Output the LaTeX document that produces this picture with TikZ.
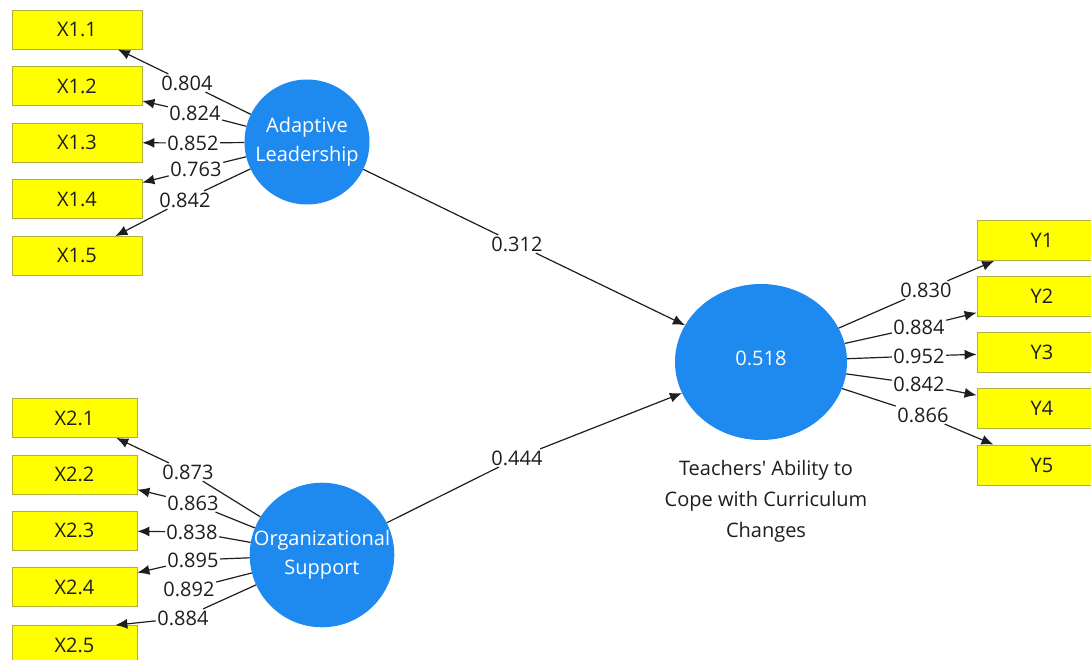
\documentclass[tikz,border=0pt]{standalone}
\usepackage{fontspec}
\setmainfont{Open Sans}
\usetikzlibrary{arrows.meta,shapes.geometric}
\definecolor{lvblue}{RGB}{30,138,240}
\definecolor{indyellow}{RGB}{255,255,0}
\definecolor{indborder}{RGB}{175,175,60}
\definecolor{lncol}{RGB}{30,30,30}
\definecolor{txt}{RGB}{30,30,30}
\begin{document}
\begin{tikzpicture}[x=1pt,y=-1pt,
  every node/.style={font=\fontsize{20}{24}\selectfont},
  ind/.style={draw=indborder, fill=indyellow, line width=0.8pt, minimum height=39pt, inner sep=0pt, text=txt},
  lv/.style={circle, fill=lvblue, text=white, inner sep=0pt, align=center, font=\fontsize{20}{29}\selectfont},
  lbl/.style={fill=white, inner sep=1.5pt, text=txt},
  ln/.style={draw=lncol, line width=1.2pt},
  arr/.style={ln, -{Latex[length=12pt,width=10pt]}}]
\fill[white] (0,0) rectangle (1091,660);
\useasboundingbox (0,0) rectangle (1091,660);

% indicator boxes
\node[ind, minimum width=130pt] (x11) at (77,29.5) {X1.1};
\node[ind, minimum width=130pt] (x12) at (77,86) {X1.2};
\node[ind, minimum width=130pt] (x13) at (77,142.5) {X1.3};
\node[ind, minimum width=130pt] (x14) at (77,199) {X1.4};
\node[ind, minimum width=130pt] (x15) at (77,256) {X1.5};

\node[ind, minimum width=125pt] (x21) at (74.5,418) {X2.1};
\node[ind, minimum width=125pt] (x22) at (74.5,474.5) {X2.2};
\node[ind, minimum width=125pt] (x23) at (74.5,530.5) {X2.3};
\node[ind, minimum width=125pt] (x24) at (74.5,587) {X2.4};
\node[ind, minimum width=125pt] (x25) at (74.5,645) {X2.5};

\node[ind, minimum width=130pt, minimum height=40pt] (y1) at (1042,240.5) {Y1};
\node[ind, minimum width=130pt, minimum height=40pt] (y2) at (1042,296.5) {Y2};
\node[ind, minimum width=130pt, minimum height=40pt] (y3) at (1042,352.5) {Y3};
\node[ind, minimum width=130pt, minimum height=40pt] (y4) at (1042,408) {Y4};
\node[ind, minimum width=130pt, minimum height=40pt] (y5) at (1042,465) {Y5};

% latent variables
\node[lv, minimum size=125pt] (al) at (307,142) {Adaptive\\Leadership};
\node[lv, minimum size=137pt] (os) at (322,555) {Organizational\\Support};
\node[lv, ellipse, minimum width=172pt, minimum height=156pt] (c) at (761,362) {\raisebox{7pt}{0.518}};
\node[align=center, font=\fontsize{20}{31}\selectfont, text=txt] (ct) at (766,501)
  {Teachers\textquotesingle{} Ability to\\Cope with Curriculum\\Changes};

% loading labels
\node[lbl] (l11) at (187,83) {0.804};
\node[lbl] (l12) at (195,113) {0.824};
\node[lbl] (l13) at (193,143) {0.852};
\node[lbl] (l14) at (196,169) {0.763};
\node[lbl] (l15) at (185,200) {0.842};

\node[lbl] (l21) at (188,472) {0.873};
\node[lbl] (l22) at (193,503) {0.863};
\node[lbl] (l23) at (192,532) {0.838};
\node[lbl] (l24) at (193,560) {0.895};
\node[lbl] (l26) at (189,589) {0.892};
\node[lbl] (l25) at (183,618) {0.884};

\node[lbl] (m1) at (926,290) {0.830};
\node[lbl] (m2) at (919,327) {0.884};
\node[lbl] (m3) at (919,356) {0.952};
\node[lbl] (m4) at (919,384) {0.842};
\node[lbl] (m5) at (923,415) {0.866};

\node[lbl] (b1) at (517,244) {0.312};
\node[lbl] (b2) at (517,458) {0.444};

% connectors: Adaptive Leadership
\draw[ln] (al) -- (l11); \draw[arr] (l11) -- (x11);
\draw[ln] (al) -- (l12); \draw[arr] (l12) -- (x12);
\draw[ln] (al) -- (l13); \draw[arr] (l13) -- (x13);
\draw[ln] (al) -- (l14); \draw[arr] (l14) -- (x14);
\draw[ln] (al) -- (l15); \draw[arr] (l15) -- (x15);

% connectors: Organizational Support
\draw[ln] (os) -- (l21); \draw[arr] (l21) -- (x21);
\draw[ln] (os) -- (l22); \draw[arr] (l22) -- (x22);
\draw[ln] (os) -- (l23); \draw[arr] (l23) -- (x23);
\draw[ln] (os) -- (l24); \draw[arr] (l24) -- (x24);
\draw[ln] (os) -- (l26);
\draw[ln] (os) -- (l25); \draw[arr] (l25) -- ([xshift=-22pt]x25.north east);

% connectors: outcome
\draw[ln] (c) -- (m1); \draw[arr] (m1) -- (y1);
\draw[ln] (c) -- (m2); \draw[arr] (m2) -- (y2);
\draw[ln] (c) -- (m3); \draw[arr] (m3) -- (y3);
\draw[ln] (c) -- (m4); \draw[arr] (m4) -- (y4);
\draw[ln] (c) -- (m5); \draw[arr] (m5) -- (y5);

% structural paths
\draw[ln] (al) -- (b1); \draw[arr] (b1) -- (c);
\draw[ln] (os) -- (b2); \draw[arr] (b2) -- (c);
\end{tikzpicture}
\end{document}
